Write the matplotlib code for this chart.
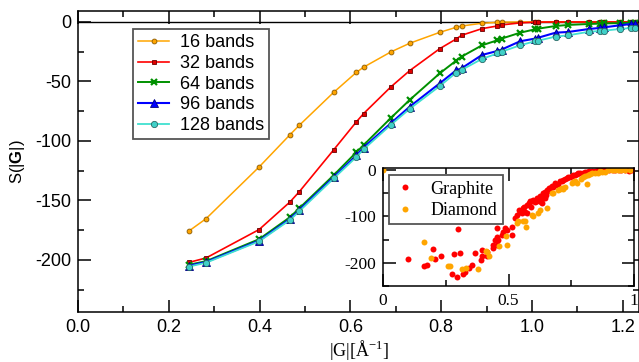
import matplotlib
matplotlib.use('Agg')
import matplotlib.pyplot as plt
from matplotlib.ticker import MultipleLocator

# |G| values shared by all band series
g_vals = [0.2445, 0.282, 0.399, 0.467, 0.4875, 0.563, 0.613, 0.629, 0.689,
          0.7306, 0.797, 0.833, 0.845, 0.89, 0.9236, 0.933, 0.974, 1.0066,
          1.014, 1.052, 1.08, 1.126, 1.15, 1.159, 1.194, 1.219, 1.227]

s16 = [-175.6, -165.3, -121.8, -94.7, -86.8, -59.2, -42.4, -38.0, -25.2,
       -17.9, -8.7, -4.5, -3.4, -1.1, -0.3, -0.2, 0, 0, 0, 0, 0, 0, 0, 0, 0, 0, 0]
s32 = [-202.0, -198.3, -174.4, -151.2, -142.6, -107.5, -84.0, -77.0, -54.6,
       -40.9, -22.4, -14.3, -11.2, -5.6, -3.4, -2.5, -0.8, -0.2, -0.1,
       0, 0, 0, 0, 0, 0, 0, 0]
s64 = [-204.0, -201.0, -182.5, -164.0, -156.5, -128.8, -109.5, -103.5, -80.7,
       -65.5, -43.1, -32.5, -29.1, -19.6, -15.4, -14.0, -9.0, -6.2, -5.6,
       -3.4, -2.5, -1.7, -1.4, -1.2, -1.0, -0.6, -0.6]
s96 = [-204.8, -201.7, -183.7, -165.5, -158.0, -130.5, -112.2, -105.5, -85.1,
       -71.2, -51.5, -40.6, -38.9, -27.7, -24.4, -23.2, -16.2, -14.0, -13.2,
       -9.0, -8.4, -5.9, -5.0, -4.5, -2.8, -1.7, -1.5]
s128 = [-205.5, -202.3, -184.3, -166.3, -159.0, -131.5, -113.5, -107.0, -86.5,
        -73.0, -53.8, -42.6, -40.3, -31.0, -26.5, -25.0, -19.6, -16.2, -15.7,
        -12.3, -11.2, -8.2, -7.6, -7.3, -5.9, -5.0, -4.8]

# inset scatter: graphite
gr_x = [0.101, 0.163, 0.174, 0.200, 0.208, 0.230, 0.281, 0.298, 0.307, 0.274,
        0.294, 0.320, 0.327, 0.344, 0.356, 0.367, 0.390, 0.393, 0.395, 0.413,
        0.413, 0.440, 0.440, 0.446, 0.453, 0.453, 0.455, 0.460, 0.473, 0.480,
        0.486, 0.493, 0.513, 0.515, 0.526, 0.533, 0.546, 0.552, 0.559, 0.566,
        0.572, 0.572, 0.582, 0.586, 0.590, 0.592, 0.599, 0.612, 0.615, 0.625,
        0.628, 0.632, 0.639, 0.645, 0.645, 0.649, 0.652, 0.665, 0.672, 0.678,
        0.685, 0.698, 0.705, 0.712, 0.725, 0.732, 0.738, 0.752, 0.758, 0.765,
        0.778, 0.785, 0.805, 0.811, 0.831, 0.858, 0.87, 0.884, 0.90, 0.924,
        0.95, 0.964, 0.98, 0.991, 0.540, 0.556, 0.562, 0.605, 0.620, 0.636,
        0.658, 0.662, 0.690, 0.718, 0.745, 0.772, 0.795, 0.82, 0.845, 0.915,
        0.94, 0.975]
gr_y = [-191, -206, -204, -171, -191, -186, -181, -127, -180, -224,
        -231, -224, -220, -211, -205, -179, -193, -186, -172, -176,
        -185, -168, -161, -150, -161, -125, -145, -150, -140, -133,
        -126, -129, -122, -141, -104, -97, -90, -93, -82, -91,
        -75, -92, -72, -68, -79, -68, -64, -61, -66, -57,
        -70, -72, -50, -47, -61, -54, -43, -40, -34, -36,
        -29, -30, -25, -25, -20, -18, -16, -13, -11, -11,
        -7, -7, -4, -4, -2, 0, -1, 0, -1, 0,
        -1, 0, -3, 0, -86, -88, -80, -70, -64, -60,
        -45, -38, -33, -22, -15, -9, -6, -3, -2, -1,
        0, -1]

# inset scatter: diamond
di_x = [0.001, 0.165, 0.190, 0.260, 0.267, 0.313, 0.331, 0.380, 0.410, 0.416,
        0.422, 0.463, 0.490, 0.493, 0.533, 0.539, 0.559, 0.566, 0.568, 0.592,
        0.599, 0.619, 0.625, 0.652, 0.672, 0.678, 0.698, 0.705, 0.712, 0.718,
        0.725, 0.752, 0.758, 0.765, 0.772, 0.798, 0.805, 0.811, 0.818, 0.831,
        0.845, 0.858, 0.871, 0.884, 0.898, 0.911, 0.937, 0.964, 0.79, 0.825,
        0.865, 0.925, 0.95, 0.985]
di_y = [0, -155, -189, -206, -207, -213, -211, -213, -174, -176,
        -185, -163, -143, -161, -115, -111, -111, -110, -122, -97,
        -99, -92, -86, -82, -50, -49, -43, -41, -39, -41,
        -37, -29, -27, -25, -29, -16, -14, -30, -11, -7,
        -6, -6, -4, -4, -1, 0, 0, 0, -20, -9,
        -3, -1, -1, 0]

plt.rcParams['font.family'] = ['Liberation Sans', 'DejaVu Sans']
plt.rcParams['axes.unicode_minus'] = False
plt.rcParams['mathtext.fontset'] = 'custom'
plt.rcParams['mathtext.rm'] = 'Liberation Serif'
plt.rcParams['mathtext.bf'] = 'Liberation Sans:bold'

fig = plt.figure(figsize=(6.39, 3.62), dpi=100)
ax = fig.add_axes([0.1221, 0.1381, 0.8779, 0.8315])

ax.axhline(0, color='black', lw=1.0, zorder=1)
ax.plot(g_vals, s16, '-o', color='#FFA500', lw=1.1, ms=3.5,
        mfc='#FFA500', mec='#8B5A00', mew=0.6, label='16 bands')
ax.plot(g_vals, s32, '-s', color='#FF0000', lw=1.2, ms=3.2,
        mfc='#E00000', mec='#6B0000', mew=0.6, label='32 bands')
ax.plot(g_vals, s64, '-x', color='#009000', lw=1.4, ms=5,
        mew=1.6, label='64 bands')
ax.plot(g_vals, s96, '-^', color='#0000FF', lw=1.5, ms=5.5,
        mfc='#0000FF', mec='#000080', mew=0.6, label='96 bands')
ax.plot(g_vals, s128, '-o', color='#40E0D0', lw=1.3, ms=4.5,
        mfc='#40D0C8', mec='#2A6A66', mew=0.6, label='128 bands')

ax.set_xlim(0, 1.2357)
ax.set_ylim(-243.7, 9.2)
ax.xaxis.set_major_locator(MultipleLocator(0.2))
ax.xaxis.set_minor_locator(MultipleLocator(0.1))
ax.yaxis.set_major_locator(MultipleLocator(50))
ax.yaxis.set_minor_locator(MultipleLocator(25))
ax.tick_params(which='both', direction='in', top=True, right=True,
               labelsize=13, width=1.1)
ax.tick_params(which='major', length=9, pad=5)
ax.tick_params(which='minor', length=4.5)
for sp in ax.spines.values():
    sp.set_linewidth(1.1)

ax.set_xlabel('|G|[Å$^{\\mathrm{-1}}$]', family='Liberation Serif',
              fontsize=13, labelpad=2)
ax.set_ylabel('S(|$\\mathbf{G}$|)', fontsize=12, labelpad=6)

leg = ax.legend(loc='upper left', bbox_to_anchor=(0.098, 0.940),
                borderaxespad=0, fontsize=13, fancybox=False,
                edgecolor='#555555', framealpha=1, handlelength=1.7,
                handletextpad=0.6, labelspacing=0.2, borderpad=0.3)
leg.get_frame().set_linewidth(1.3)

# inset
axi = fig.add_axes([0.5994, 0.2099, 0.3928, 0.326])
axi.plot(gr_x, gr_y, 'o', color='#FF0000', ms=4.3, mew=0, label='Graphite')
axi.plot(di_x, di_y, 'o', color='#FFA500', ms=4.3, mew=0, label='Diamond')
axi.set_xlim(0, 1)
axi.set_ylim(-250, 4)
axi.xaxis.set_minor_locator(MultipleLocator(0.25))
axi.yaxis.set_major_locator(MultipleLocator(100))
axi.yaxis.set_minor_locator(MultipleLocator(50))
axi.set_xticks([0, 0.5, 1])
axi.set_xticklabels(['0', '0.5', '1'])
axi.tick_params(which='both', direction='in', top=True, right=True,
               labelsize=12.5, width=1.1)
axi.tick_params(which='major', length=9, pad=5)
axi.tick_params(which='minor', length=4.5)
for lab in axi.get_xticklabels() + axi.get_yticklabels():
    lab.set_family('Liberation Serif')
for sp in axi.spines.values():
    sp.set_linewidth(1.1)

legi = axi.legend(loc='upper left', bbox_to_anchor=(0.024, 0.94),
                  borderaxespad=0, prop={'family': 'Liberation Serif', 'size': 13},
                  fancybox=False, edgecolor='#555555', framealpha=1,
                  handlelength=1.2, handletextpad=0.8, labelspacing=0.25,
                  borderpad=0.3)
legi.get_frame().set_linewidth(1.3)

fig.savefig('out.png', dpi=100)
